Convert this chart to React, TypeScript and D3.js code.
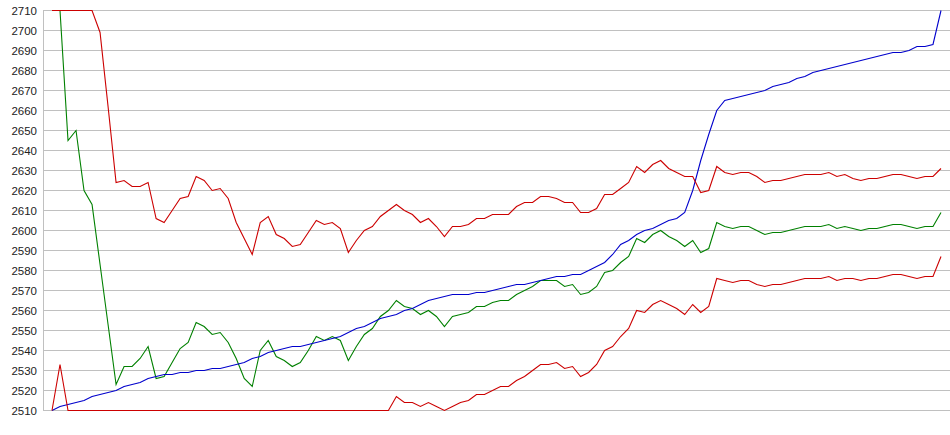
import React from "react";
import * as d3 from "d3";

const yTicks = [2510, 2520, 2530, 2540, 2550, 2560, 2570, 2580, 2590, 2600, 2610, 2620, 2630, 2640, 2650, 2660, 2670, 2680, 2690, 2700, 2710];

const redUpper = [
  2710, 2710, 2710, 2710, 2710, 2710, 2699, 2662, 2624, 2625,
  2622, 2622, 2624, 2606, 2604, 2610, 2616, 2617, 2627, 2625,
  2620, 2621, 2616, 2604, 2596, 2588, 2604, 2607, 2598, 2596,
  2592, 2593, 2599, 2605, 2603, 2604, 2601, 2589, 2595, 2600,
  2602, 2607, 2610, 2613, 2610, 2608, 2604, 2606, 2602, 2597,
  2602, 2602, 2603, 2606, 2606, 2608, 2608, 2608, 2612, 2614,
  2614, 2617, 2617, 2616, 2614, 2614, 2609, 2609, 2611, 2618,
  2618, 2621, 2624, 2632, 2629, 2633, 2635, 2631, 2629, 2627,
  2627, 2619, 2620, 2632, 2629, 2628, 2629, 2629, 2627, 2624,
  2625, 2625, 2626, 2627, 2628, 2628, 2628, 2629, 2627, 2628,
  2626, 2625, 2626, 2626, 2627, 2628, 2628, 2627, 2626, 2627,
  2627, 2631,
];

const greenSeries = [
  2710, 2710, 2645, 2650, 2620, 2613, 2583, 2553, 2523, 2532,
  2532, 2536, 2542, 2526, 2527, 2534, 2541, 2544, 2554, 2552,
  2548, 2549, 2544, 2536, 2526, 2522, 2540, 2545, 2537, 2535,
  2532, 2534, 2540, 2547, 2545, 2547, 2545, 2535, 2542, 2548,
  2551, 2557, 2560, 2565, 2562, 2561, 2558, 2560, 2557, 2552,
  2557, 2558, 2559, 2562, 2562, 2564, 2565, 2565, 2568, 2570,
  2572, 2575, 2575, 2575, 2572, 2573, 2568, 2569, 2572, 2579,
  2580, 2584, 2587, 2596, 2594, 2598, 2600, 2597, 2595, 2592,
  2595, 2589, 2591, 2604, 2602, 2601, 2602, 2602, 2600, 2598,
  2599, 2599, 2600, 2601, 2602, 2602, 2602, 2603, 2601, 2602,
  2601, 2600, 2601, 2601, 2602, 2603, 2603, 2602, 2601, 2602,
  2602, 2609,
];

const redLower = [
  2510, 2533, 2510, 2510, 2510, 2510, 2510, 2510, 2510, 2510,
  2510, 2510, 2510, 2510, 2510, 2510, 2510, 2510, 2510, 2510,
  2510, 2510, 2510, 2510, 2510, 2510, 2510, 2510, 2510, 2510,
  2510, 2510, 2510, 2510, 2510, 2510, 2510, 2510, 2510, 2510,
  2510, 2510, 2510, 2517, 2514, 2514, 2512, 2514, 2512, 2510,
  2512, 2514, 2515, 2518, 2518, 2520, 2522, 2522, 2525, 2527,
  2530, 2533, 2533, 2534, 2531, 2532, 2527, 2529, 2533, 2540,
  2542, 2547, 2551, 2560, 2559, 2563, 2565, 2563, 2561, 2558,
  2563, 2559, 2562, 2576, 2575, 2574, 2575, 2575, 2573, 2572,
  2573, 2573, 2574, 2575, 2576, 2576, 2576, 2577, 2575, 2576,
  2576, 2575, 2576, 2576, 2577, 2578, 2578, 2577, 2576, 2577,
  2577, 2587,
];

const blueSeries = [
  2510, 2512, 2513, 2514, 2515, 2517, 2518, 2519, 2520, 2522,
  2523, 2524, 2526, 2527, 2528, 2528, 2529, 2529, 2530, 2530,
  2531, 2531, 2532, 2533, 2534, 2536, 2537, 2539, 2540, 2541,
  2542, 2542, 2543, 2544, 2545, 2546, 2547, 2549, 2551, 2552,
  2554, 2556, 2557, 2558, 2560, 2561, 2563, 2565, 2566, 2567,
  2568, 2568, 2568, 2569, 2569, 2570, 2571, 2572, 2573, 2573,
  2574, 2575, 2576, 2577, 2577, 2578, 2578, 2580, 2582, 2584,
  2588, 2593, 2595, 2598, 2600, 2601, 2603, 2605, 2606, 2609,
  2620, 2635, 2648, 2660, 2665, 2666, 2667, 2668, 2669, 2670,
  2672, 2673, 2674, 2676, 2677, 2679, 2680, 2681, 2682, 2683,
  2684, 2685, 2686, 2687, 2688, 2689, 2689, 2690, 2692, 2692,
  2693, 2710,
];

const W = 950;
const H = 435;

export default function App() {
  const n = redUpper.length;
  const x = d3.scaleLinear().domain([0, n - 1]).range([52, 941]);
  const y = d3.scaleLinear().domain([2510, 2710]).range([410, 10]);
  const line = d3
    .line<number>()
    .x((_, i) => x(i))
    .y((d) => y(d));

  const series = [
    { data: greenSeries, color: "#008000" },
    { data: blueSeries, color: "#0000cc" },
    { data: redLower, color: "#cc0000" },
    { data: redUpper, color: "#cc0000" },
  ];

  return (
    <svg
      width={W}
      height={H}
      style={{ position: "absolute", left: 0, top: 0, background: "#fff" }}
    >
      <g>
        {yTicks.map((t) => (
          <line
            key={"g" + t}
            x1={43}
            x2={W}
            y1={Math.round(y(t)) + 0.5}
            y2={Math.round(y(t)) + 0.5}
            stroke="#c0c0c0"
            strokeWidth={1}
            shapeRendering="crispEdges"
          />
        ))}
        <line
          x1={43.5}
          x2={43.5}
          y1={y(2710)}
          y2={y(2510) + 1}
          stroke="#c0c0c0"
          strokeWidth={1}
          shapeRendering="crispEdges"
        />
        {yTicks.map((t) => (
          <text
            key={"t" + t}
            x={37}
            y={y(t) + 4.5}
            textAnchor="end"
            fontFamily="'Liberation Sans', Arial, sans-serif"
            fontSize={11.5}
            fill="#222"
          >
            {t}
          </text>
        ))}
      </g>
      <g transform="translate(0,0.5)">
        {series.map((s, k) => (
          <path
            key={k}
            d={line(s.data) || ""}
            fill="none"
            stroke={s.color}
            strokeWidth={1.1}
          />
        ))}
      </g>
    </svg>
  );
}
